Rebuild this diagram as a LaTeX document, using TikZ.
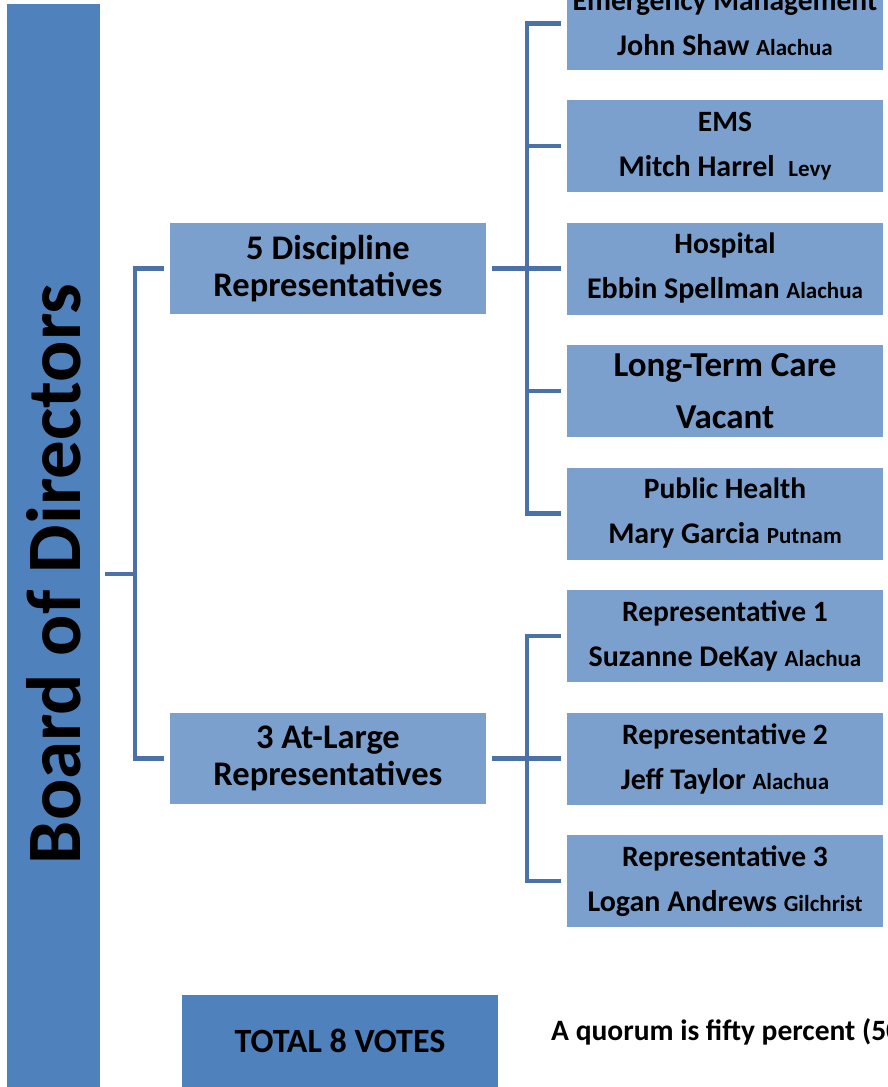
\documentclass[tikz,border=0pt]{standalone}
\usepackage{fontspec}
\setmainfont{Carlito}
\usepackage{xcolor}
\usepackage{tikz}
\definecolor{barblue}{HTML}{4F81BD}
\definecolor{boxblue}{HTML}{7BA0CD}
\definecolor{lineblue}{HTML}{4A72A8}
\newcommand{\seattitle}[1]{{\fontsize{29.5}{45}\selectfont #1}}
\newcommand{\seatcounty}[1]{{\fontsize{23}{25}\selectfont #1}}
\tikzset{
  boardbar/.style={fill=barblue, minimum width=1140pt, minimum height=93pt,
    inner sep=0pt, rotate=90, font=\fontsize{77}{82}\selectfont\bfseries},
  grpbox/.style={fill=boxblue, minimum width=316pt, minimum height=91pt,
    inner sep=0pt, align=center, font=\fontsize{34.5}{37}\selectfont\bfseries},
  seatbox/.style={fill=boxblue, minimum width=316pt, minimum height=92pt,
    inner sep=0pt, align=center, font=\fontsize{30}{45}\selectfont\bfseries},
  totalbox/.style={fill=barblue, minimum width=316pt, minimum height=92pt,
    inner sep=0pt, font=\fontsize{34}{36}\selectfont\bfseries},
  link/.style={draw=lineblue, line width=4.5pt}
}

\begin{document}
\begin{tikzpicture}[x=1pt, y=-1pt]
  \useasboundingbox (0,0) rectangle (888,1087);
  \clip (0,0) rectangle (888,1087);

  % board column on the left
  \node[boardbar] (board) at (53.5,574) {Board of Directors};

  % the two groups
  \node[grpbox] (disc) at (328,268.5) {5 Discipline\\Representatives};
  \node[grpbox] (large) at (328,758.5) {3 At-Large\\Representatives};

  % discipline seats
  \node[seatbox] (em) at (725,23.5) {\seattitle{Emergency Management}\\John Shaw \seatcounty{Alachua}};
  \node[seatbox] (ems) at (725,146) {\seattitle{EMS}\\Mitch Harrel\ \ \seatcounty{Levy}};
  \node[seatbox] (hosp) at (725,268.5) {\seattitle{Hospital}\\Ebbin Spellman \seatcounty{Alachua}};
  \node[seatbox, font=\fontsize{35}{52}\selectfont\bfseries] (ltc) at (725,391) {Long-Term Care\\Vacant};
  \node[seatbox] (ph) at (725,513.5) {\seattitle{Public Health}\\Mary Garcia \seatcounty{Putnam}};

  % at-large seats
  \node[seatbox] (rep1) at (725,636) {\seattitle{Representative 1}\\Suzanne DeKay \seatcounty{Alachua}};
  \node[seatbox] (rep2) at (725,758.5) {\seattitle{Representative 2}\\Jeff Taylor \seatcounty{Alachua}};
  \node[seatbox] (rep3) at (725,881) {\seattitle{Representative 3}\\Logan Andrews \seatcounty{Gilchrist}};

  \node[totalbox, anchor=north] (total) at (340,995) {TOTAL 8 VOTES};
  \node[anchor=base west, inner sep=0pt, font=\fontsize{29.5}{32}\selectfont\bfseries] (quorum) at (551,1040)
    {A quorum is fifty percent (50};

  % connectors
  \coordinate (lspine) at (135,574);
  \draw[link] ([xshift=5pt]board.south) -- (lspine);
  \draw[link] ([xshift=-6pt]disc.west) -| (lspine) |- ([xshift=-6pt]large.west);

  \draw[link] ([xshift=6pt]disc.east) -- ([xshift=-6pt]hosp.west);
  \draw[link] ([xshift=-6pt]em.west) -| ([xshift=-40pt]ph.west) -- ([xshift=-6pt]ph.west);
  \foreach \n in {ems,ltc}
    \draw[link] ([xshift=-40pt]\n.west) -- ([xshift=-6pt]\n.west);

  \draw[link] ([xshift=6pt]large.east) -- ([xshift=-6pt]rep2.west);
  \draw[link] ([xshift=-6pt]rep1.west) -| ([xshift=-40pt]rep3.west) -- ([xshift=-6pt]rep3.west);
\end{tikzpicture}
\end{document}
